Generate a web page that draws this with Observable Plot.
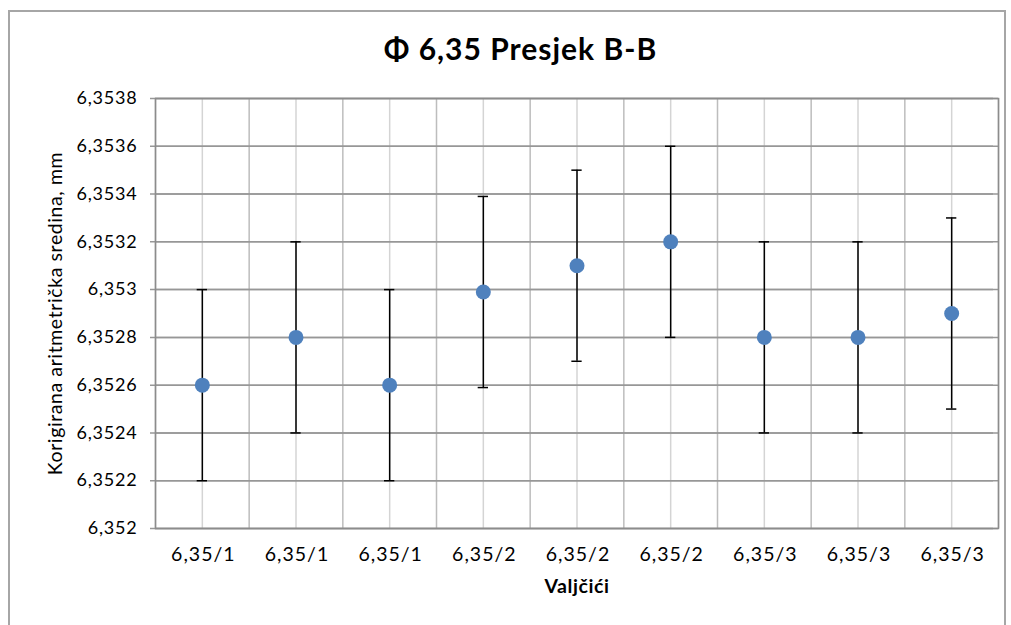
<!DOCTYPE html>
<html><head><meta charset="utf-8">
<script src="https://cdn.jsdelivr.net/npm/d3@7"></script>
<script src="https://cdn.jsdelivr.net/npm/@observablehq/plot@0.6"></script>
<style>
body{margin:0;background:#fff;font-family:Lato,"Open Sans",sans-serif;}
#wrap{position:relative;width:1011px;height:625px;overflow:hidden;}
#border{position:absolute;left:8px;top:10px;width:998px;height:700px;border:2px solid #a6a6a6;box-sizing:border-box;}
#title{position:absolute;left:0;top:0;width:1011px;height:70px;text-align:center;line-height:96px;font-size:30px;font-weight:bold;letter-spacing:1px;color:#000;padding-left:30px;box-sizing:border-box;}
#chart{position:absolute;left:0;top:70px;}
g[aria-label="y-axis tick label"] text{letter-spacing:0.8px;}
g[aria-label="x-axis tick label"] text{letter-spacing:1px;}
g[aria-label="text"] text{letter-spacing:0.6px;}
</style></head>
<body><div id="wrap"><div id="border"></div><div id="title">Φ 6,35 Presjek B-B</div><div id="chart"></div></div>
<script>
const categories = ["6,35/1","6,35/1","6,35/1","6,35/2","6,35/2","6,35/2","6,35/3","6,35/3","6,35/3"];
const means = [6.3526, 6.3528, 6.3526, 6.35299, 6.3531, 6.3532, 6.3528, 6.3528, 6.3529];
const errors = [0.0004, 0.0004, 0.0004, 0.0004, 0.0004, 0.0004, 0.0004, 0.0004, 0.0004];
const yTicks = [6.352, 6.3522, 6.3524, 6.3526, 6.3528, 6.353, 6.3532, 6.3534, 6.3536, 6.3538];

const data = categories.map((c, i) => ({i, pos: i + 0.5, cat: c, mean: means[i], lo: means[i] - errors[i], hi: means[i] + errors[i]}));
const boundaries = d3.range(0, categories.length + 1);
const centers = data.map(d => d.pos);
const fmt = v => v.toFixed(4).replace(/0+$/, "").replace(/\.$/, "").replace(".", ",");
const capHalf = 0.055;

const plot = Plot.plot({
  width: 1011,
  height: 555,
  marginLeft: 155,
  marginRight: 13,
  marginTop: 28,
  marginBottom: 97,
  style: {fontFamily: "Lato, 'Open Sans', sans-serif", fontSize: "18px", color: "#000", background: "transparent"},
  x: {domain: [0, categories.length], axis: null},
  y: {domain: [yTicks[0], yTicks[yTicks.length - 1]], axis: null},
  marks: [
    Plot.ruleX(centers, {x: d => d, stroke: "#d4d4d4", strokeWidth: 1.5}),
    Plot.ruleX(boundaries, {x: d => d, stroke: "#bdbdbd", strokeWidth: 1.5}),
    Plot.ruleY(yTicks, {y: d => d, x1: 0, x2: categories.length, stroke: "#979797", strokeWidth: 1.5}),
    Plot.ruleY(yTicks, {y: d => d, x1: 0, x2: categories.length, dx: -5, stroke: "#979797", strokeWidth: 1.5}),
    Plot.axisY({ticks: yTicks, tickFormat: fmt, tickSize: 0, tickPadding: 18, fontSize: 18, label: null}),
    Plot.axisX({ticks: centers, tickFormat: (d) => categories[Math.round(d - 0.5)], tickSize: 0, tickPadding: 19, fontSize: 19.5, dx: 1, label: null}),
    Plot.frame({stroke: "#8c8c8c", strokeWidth: 1.5}),
    Plot.ruleX(data, {x: "pos", y1: "lo", y2: "hi", stroke: "#000", strokeWidth: 1.5}),
    Plot.ruleY(data, {y: "lo", x1: d => d.pos - capHalf, x2: d => d.pos + capHalf, stroke: "#000", strokeWidth: 1.5}),
    Plot.ruleY(data, {y: "hi", x1: d => d.pos - capHalf, x2: d => d.pos + capHalf, stroke: "#000", strokeWidth: 1.5}),
    Plot.dot(data, {x: "pos", y: "mean", r: 7.5, fill: "#4f81bd", stroke: "none"}),
    Plot.text(["Valjčići"], {frameAnchor: "bottom", dy: 64, fontSize: 19.5, fontWeight: "bold", text: d => d}),
    Plot.text(["Korigirana aritmetrička sredina, mm"], {frameAnchor: "left", dx: -100, rotate: -90, textAnchor: "middle", fontSize: 19.5, text: d => d})
  ]
});
document.getElementById("chart").appendChild(plot);
</script>
</body></html>
